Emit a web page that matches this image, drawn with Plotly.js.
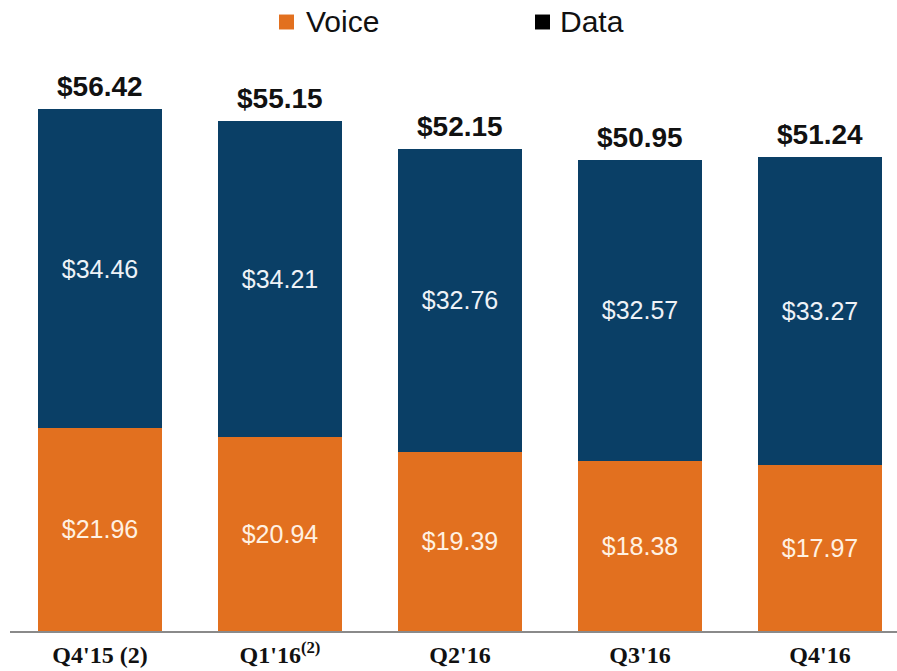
<!DOCTYPE html>
<html>
<head>
<meta charset="utf-8">
<script src="https://cdn.plot.ly/plotly-3.0.1.min.js"></script>
<style>html,body{margin:0;padding:0;background:#fff;}#chart{width:897px;height:671px;}</style>
</head>
<body>
<div id="chart"></div>
<script>
var categories = ["Q4'15", "Q1'16", "Q2'16", "Q3'16", "Q4'16"];
var tickLabels = ["<b>Q4'15 (2)</b>", "<b>Q1'16<sup>(2)</sup></b>", "<b>Q2'16</b>", "<b>Q3'16</b>", "<b>Q4'16</b>"];
var voice = [21.96, 20.94, 19.39, 18.38, 17.97];
var data = [34.46, 34.21, 32.76, 32.57, 33.27];
var totals = [56.42, 55.15, 52.15, 50.95, 51.24];

var orange = '#E2701F';
var navy = '#0A3F66';
var fmt = function(v){ return '$' + v.toFixed(2); };
var sans = 'Arial, Liberation Sans, sans-serif';

var traces = [
  {type:'bar', name:'Voice', x:categories, y:voice, marker:{color:orange},
   text:voice.map(fmt), textposition:'inside', insidetextanchor:'middle',
   textfont:{family:sans, size:25, color:'#FFF1E2'},
   hoverinfo:'none', showlegend:false, width:0.69},
  {type:'bar', name:'Data', x:categories, y:data, marker:{color:navy},
   text:data.map(fmt), textposition:'inside', insidetextanchor:'middle',
   textfont:{family:sans, size:25, color:'#EEF2F7'},
   hoverinfo:'none', showlegend:false, width:0.69}
];

var annotations = categories.map(function(c, i){
  return {x:c, y:totals[i], xref:'x', yref:'y', text:'<b>' + fmt(totals[i]) + '</b>',
    showarrow:false, yanchor:'bottom', yshift:5,
    font:{family:sans, size:28, color:'#111'}};
});
annotations.push({xref:'paper', yref:'paper', x:0.3315, y:1.031, xanchor:'left', yanchor:'middle',
  text:'Voice', showarrow:false, font:{family:sans, size:30, color:'#111'}});
annotations.push({xref:'paper', yref:'paper', x:0.6175, y:1.031, xanchor:'left', yanchor:'middle',
  text:'Data', showarrow:false, font:{family:sans, size:30, color:'#111'}});

var shapes = [
  {type:'rect', xref:'paper', yref:'paper', x0:0.3033, x1:0.3202, y0:1.0178, y1:1.0431, fillcolor:orange, line:{width:0}},
  {type:'rect', xref:'paper', yref:'paper', x0:0.5919, x1:0.6088, y0:1.0178, y1:1.0431, fillcolor:'#000', line:{width:0}}
];

var layout = {
  width:897, height:671,
  margin:{l:10, r:0, t:40, b:40},
  paper_bgcolor:'#fff', plot_bgcolor:'#fff',
  barmode:'stack',
  showlegend:false,
  xaxis:{type:'category', range:[-0.5, 4.4278], tickvals:categories, ticktext:tickLabels,
    showline:true, linecolor:'#8a8a8a', linewidth:1.5, showgrid:false, ticks:'', zeroline:false,
    ticklabelstandoff:2,
    tickfont:{family:'Liberation Serif, DejaVu Serif, serif', size:24, color:'#111'}},
  yaxis:{range:[0, 63.9], visible:false, showgrid:false, zeroline:false},
  annotations:annotations,
  shapes:shapes,
  uniformtext:{mode:false}
};

Plotly.newPlot('chart', traces, layout, {displayModeBar:false, staticPlot:true});
</script>
</body>
</html>
